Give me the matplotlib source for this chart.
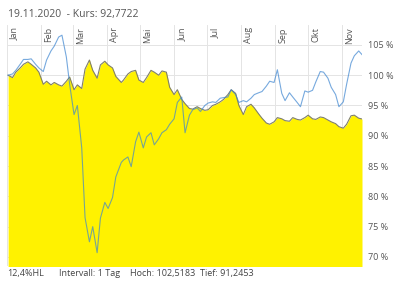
import matplotlib
matplotlib.use('Agg')
import matplotlib.pyplot as plt
import matplotlib.transforms as mtransforms
import pandas as pd

plt.rcParams['font.family'] = ['Open Sans', 'DejaVu Sans']

dates = ['2020-01-02', '2020-01-06', '2020-01-09', '2020-01-13', '2020-01-16', '2020-01-20',
         '2020-01-23', '2020-01-27', '2020-01-30', '2020-02-03', '2020-02-06', '2020-02-10',
         '2020-02-13', '2020-02-17', '2020-02-20', '2020-02-24', '2020-02-27', '2020-03-02',
         '2020-03-05', '2020-03-09', '2020-03-12', '2020-03-16', '2020-03-19', '2020-03-23',
         '2020-03-26', '2020-03-30', '2020-04-02', '2020-04-06', '2020-04-09', '2020-04-14',
         '2020-04-16', '2020-04-20', '2020-04-23', '2020-04-27', '2020-04-30', '2020-05-04',
         '2020-05-07', '2020-05-11', '2020-05-14', '2020-05-18', '2020-05-21', '2020-05-25',
         '2020-05-28', '2020-06-01', '2020-06-04', '2020-06-08', '2020-06-11', '2020-06-15',
         '2020-06-18', '2020-06-22', '2020-06-25', '2020-06-29', '2020-07-02', '2020-07-06',
         '2020-07-09', '2020-07-13', '2020-07-16', '2020-07-20', '2020-07-23', '2020-07-27',
         '2020-07-30', '2020-08-03', '2020-08-06', '2020-08-10', '2020-08-13', '2020-08-17',
         '2020-08-20', '2020-08-24', '2020-08-27', '2020-08-31', '2020-09-03', '2020-09-07',
         '2020-09-10', '2020-09-14', '2020-09-17', '2020-09-21', '2020-09-24', '2020-09-28',
         '2020-10-01', '2020-10-05', '2020-10-08', '2020-10-12', '2020-10-15', '2020-10-19',
         '2020-10-22', '2020-10-26', '2020-10-29', '2020-11-02', '2020-11-05', '2020-11-09',
         '2020-11-12', '2020-11-16', '2020-11-19']

# fund (yellow area), in % of start value
fund = [100.0, 99.6, 100.5, 101.2, 101.8, 102.2, 101.8, 101.2, 100.5, 98.5, 99.0, 98.4,
        98.8, 98.4, 98.2, 99.0, 99.7, 97.6, 98.4, 97.8, 101.0, 102.5, 100.8, 99.5,
        101.7, 102.3, 101.7, 101.2, 99.8, 98.8, 99.2, 100.2, 100.6, 100.8, 99.2, 98.8,
        99.6, 100.8, 100.5, 100.0, 100.7, 100.5, 98.0, 96.8, 97.6, 96.0, 95.3, 94.5,
        94.4, 94.8, 94.5, 94.2, 94.3, 95.0, 95.2, 95.6, 96.0, 96.8, 97.6, 97.0,
        95.0, 93.5, 94.8, 95.2, 94.6, 93.6, 92.9, 92.1, 91.9, 92.3, 93.0, 92.8,
        92.5, 92.4, 93.0, 92.7, 92.6, 93.0, 93.4, 92.8, 92.7, 93.1, 93.0, 92.6,
        92.3, 92.0, 91.5, 91.25, 91.9, 93.3, 93.4, 92.9, 92.77]

# benchmark (blue line)
index = [100.0, 100.2, 100.8, 101.8, 102.6, 102.6, 102.7, 101.8, 101.2, 100.6, 102.5, 104.0,
         104.8, 106.3, 106.6, 103.0, 98.5, 93.5, 95.0, 88.0, 76.5, 72.5, 75.0, 70.7,
         76.4, 79.0, 78.0, 79.8, 83.2, 85.6, 86.0, 86.5, 84.9, 89.0, 90.6, 88.0,
         89.8, 90.5, 88.5, 89.5, 90.5, 91.0, 91.9, 92.8, 95.5, 96.4, 90.5, 93.4,
         94.3, 94.6, 94.0, 95.0, 95.4, 95.6, 95.5, 96.2, 96.3, 96.4, 97.6, 96.8,
         95.5, 95.8, 95.6, 96.2, 96.8, 97.1, 97.3, 98.2, 99.0, 98.8, 100.9, 97.0,
         95.8, 97.1, 96.4, 95.5, 94.8, 97.4, 97.2, 97.5, 98.9, 100.6, 100.5, 99.5,
         98.0, 96.8, 94.8, 95.6, 98.5, 102.0, 103.2, 104.0, 103.4]

months = ['Jan', 'Feb', 'Mar', 'Apr', 'Mai', 'Jun', 'Jul', 'Aug', 'Sep', 'Okt', 'Nov']
yticks = [70, 75, 80, 85, 90, 95, 100, 105]

title = '19.11.2020  - Kurs: 92,7722'
footer = ['12,4%HL', 'Intervall: 1 Tag', 'Hoch: 102,5183', 'Tief: 91,2453']

x = pd.to_datetime(dates)
month_starts = pd.date_range('2020-01-01', periods=len(months), freq='MS')

fig = plt.figure(figsize=(4, 2.83), dpi=100)
ax = fig.add_axes([0.0175, 0.06, 0.8875, 0.852])

grid_c = '#e4e4e4'
ax.fill_between(x, fund, 60, color='#fff200', lw=0, zorder=2)
ax.plot(x, fund, color='#80806a', lw=0.8, zorder=3)
ax.plot(x, index, color='#3d85d0', lw=0.8, alpha=0.7, zorder=4)

ax.set_xlim(pd.Timestamp('2020-01-01'), x[-1])
ax.set_ylim(68.5, 108.3)

for m in month_starts:
    ax.axvline(m, color=grid_c, lw=0.7, zorder=1)
for v in yticks:
    ax.axhline(v, color=grid_c, lw=0.7, zorder=1)

# month names standing upright inside the top of the plot
trans = mtransforms.blended_transform_factory(ax.transData, ax.transAxes)
for m, name in zip(month_starts, months):
    ax.text(m + pd.Timedelta(days=3), 0.99, name, transform=trans, rotation=90,
            ha='left', va='top', fontsize=6.5, color='#555555', zorder=5)

ax.yaxis.tick_right()
ax.set_yticks(yticks)
ax.set_yticklabels(['{} %'.format(v) for v in yticks], fontsize=6.5, color='#555555')
ax.tick_params(axis='y', length=0, pad=4)
ax.set_xticks([])
for s in ax.spines.values():
    s.set_visible(False)

fig.text(0.02, 0.95, title, fontsize=7.5, color='#555555', va='center', ha='left')
fx = [0.018, 0.148, 0.325, 0.5]
for pos, t in zip(fx, footer):
    fig.text(pos, 0.035, t, fontsize=6.5, color='#444444', va='center', ha='left')

fig.savefig('out.png', dpi=100)
